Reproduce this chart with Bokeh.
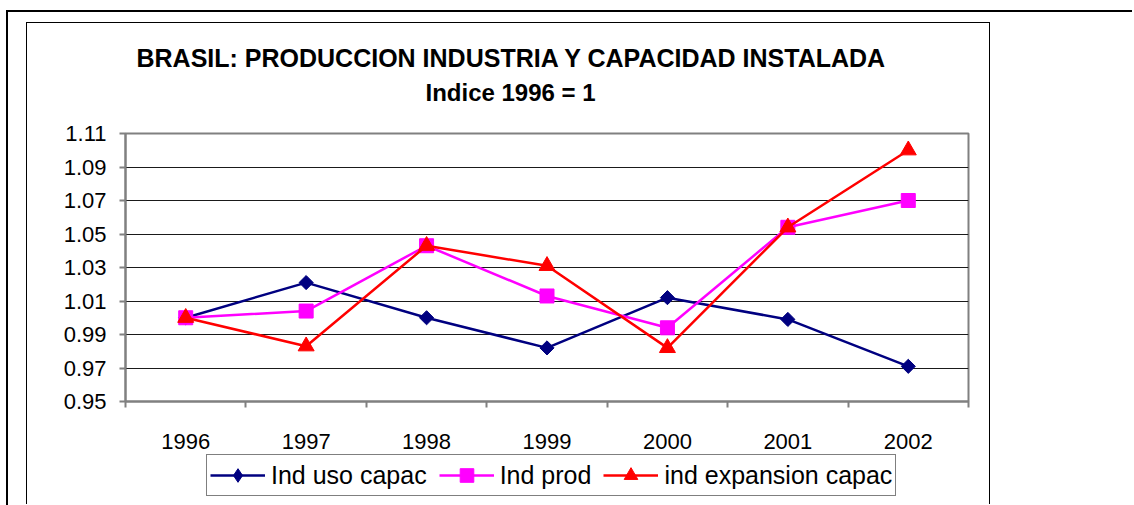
import numpy as np
from bokeh.plotting import figure
from bokeh.models import (Range1d, FixedTicker, Title, Legend, LegendItem, LinearAxis)
from bokeh.embed import file_html
from bokeh.resources import INLINE

years = ["1996", "1997", "1998", "1999", "2000", "2001", "2002"]
uso_capac = [1.000, 1.021, 1.000, 0.982, 1.012, 0.999, 0.971]
ind_prod = [1.000, 1.004, 1.043, 1.013, 0.994, 1.054, 1.070]
expansion_capac = [1.000, 0.983, 1.043, 1.031, 0.982, 1.054, 1.100]
y_ticks = [0.95, 0.97, 0.99, 1.01, 1.03, 1.05, 1.07, 1.09, 1.11]
series_names = ["Ind uso capac", "Ind prod", "ind expansion capac"]

FONT = "Liberation Sans"
xs = list(range(len(years)))
colors = ["#000080", "#FF00FF", "#FF0000"]
chart_markers = [dict(marker="square", angle=np.pi / 4, size=10),
                 dict(marker="square", size=14),
                 dict(marker="triangle", size=16)]
legend_markers = [dict(marker="diamond", size=14),
                  dict(marker="square", size=14),
                  dict(marker="triangle", size=16)]
series = [uso_capac, ind_prod, expansion_capac]

# ---------------- main chart ----------------
p = figure(width=964, height=438, x_range=Range1d(-0.5, len(years) - 0.5),
           y_range=Range1d(0.95, 1.11), output_backend="svg", toolbar_location=None,
           min_border_left=98, min_border_right=23, min_border_top=110, min_border_bottom=60)
p.styles = {"border-left": "1px solid black", "border-top": "1px solid black",
            "border-right": "1px solid black",
            "margin-left": "26px", "margin-top": "22px",
            "box-shadow": "62px 70px 0 80px white, 61px 69px 0 81px black"}
p.background_fill_color = "white"
p.border_fill_color = "white"
p.outline_line_color = "#808080"
p.outline_line_width = 2

xax = p.below[0]
xax.ticker = FixedTicker(ticks=xs, minor_ticks=[i - 0.5 for i in range(len(years) + 1)])
xax.major_label_overrides = {i: y for i, y in enumerate(years)}
xax.major_tick_out = 0
xax.major_tick_in = 0
xax.minor_tick_out = 6
xax.minor_tick_in = 0
xax.minor_tick_line_color = "#808080"
xax.minor_tick_line_width = 2
xax.major_label_standoff = 26
xax.axis_line_color = "#808080"
xax.axis_line_width = 2

yax = p.left[0]
yax.ticker = FixedTicker(ticks=y_ticks)
yax.major_label_overrides = {t: f"{t:.2f}" for t in y_ticks}
yax.major_tick_out = 6
yax.major_tick_in = 0
yax.minor_tick_line_color = None
yax.major_tick_line_color = "#808080"
yax.major_tick_line_width = 2
yax.major_label_standoff = 13
yax.axis_line_color = "#808080"
yax.axis_line_width = 2

for ax in (xax, yax):
    ax.major_label_text_font = FONT
    ax.major_label_text_font_size = "22px"
    ax.major_label_text_color = "black"

# invisible spacer between the frame and the two title lines
spacer = LinearAxis(ticker=FixedTicker(ticks=[3]), major_label_overrides={3: ""},
                    axis_line_color=None, major_tick_out=28, major_tick_in=0,
                    minor_tick_out=0, minor_tick_in=0, major_tick_line_color=None,
                    minor_tick_line_color=None, major_label_standoff=0,
                    major_label_text_font_size="0px")
p.add_layout(spacer, "above")

t2 = Title(text="Indice 1996 = 1", align="left", offset=300, standoff=0,
           text_font=FONT, text_font_size="24px", text_font_style="bold", text_color="black")
t1 = Title(text="BRASIL: PRODUCCION INDUSTRIA Y CAPACIDAD INSTALADA", align="left", offset=11,
           standoff=10, text_font=FONT, text_font_size="25px", text_font_style="bold",
           text_color="black")
p.add_layout(t2, "above")
p.add_layout(t1, "above")

p.xgrid.grid_line_color = None
p.ygrid.ticker = FixedTicker(ticks=y_ticks)
p.ygrid.grid_line_color = "#1a1a1a"
p.ygrid.grid_line_width = 1

for vals, col, mk in zip(series, colors, chart_markers):
    p.line(xs, vals, line_color=col, line_width=2.5)
    p.scatter(xs, vals, fill_color=col, line_color=col, **mk)

# ---------------- legend strip below the chart ----------------
lg = figure(width=964, height=52, x_range=Range1d(100, 101), y_range=Range1d(100, 101),
            x_axis_type=None, y_axis_type=None, output_backend="svg",
            toolbar_location=None, min_border=0)
lg.styles = {"border-left": "1px solid black", "border-right": "1px solid black",
             "margin-left": "26px", "margin-top": "-8px"}
lg.outline_line_color = None
lg.background_fill_color = "white"
lg.border_fill_color = "white"

items = []
for name, vals, col, mk in zip(series_names, series, colors, legend_markers):
    rl = lg.line(xs, vals, line_color=col, line_width=2.5)
    rm = lg.scatter(xs, vals, fill_color=col, line_color=col, **mk)
    items.append(LegendItem(label=name, renderers=[rl, rm]))

legend = Legend(items=items, orientation="horizontal", location=(179, 8))
legend.label_text_font = FONT
legend.label_text_font_size = "25px"
legend.label_text_color = "black"
legend.glyph_width = 55
legend.glyph_height = 34
legend.label_standoff = 6
legend.spacing = 12
legend.padding = 3
legend.margin = 0
legend.border_line_color = "black"
legend.border_line_width = 1
legend.background_fill_color = "white"
legend.background_fill_alpha = 1
lg.add_layout(legend)

open("out.html", "w").write(file_html([p, lg], INLINE))
